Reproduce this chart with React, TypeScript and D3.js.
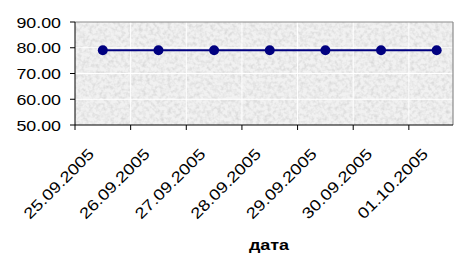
import React from "react";
import * as d3 from "d3";

const dates = ["25.09.2005", "26.09.2005", "27.09.2005", "28.09.2005", "29.09.2005", "30.09.2005", "01.10.2005"];
const values = [79, 79, 79, 79, 79, 79, 79];
const yTicks = [50, 60, 70, 80, 90];
const xTitle = "дата";

const W = 456;
const H = 255;
const left = 75;
const top = 22;
const bottom = 125;
const plotRight = 453;
const bandRight = 464.5;

export default function App() {
  const x = d3.scaleBand<string>().domain(dates).range([left, bandRight]).paddingInner(0).paddingOuter(0);
  const y = d3.scaleLinear().domain([50, 90]).range([bottom, top]);
  const bw = x.bandwidth();
  const cx = (d: string) => (x(d) as number) + bw / 2;
  const line = d3
    .line<number>()
    .x((_, i) => cx(dates[i]))
    .y((v) => y(v));
  const boundaries = dates.map((d) => x(d) as number);
  const font = "'Liberation Sans', Arial, sans-serif";

  return (
    <svg width={W} height={H} style={{ position: "absolute", left: 0, top: 0 }} xmlns="http://www.w3.org/2000/svg">
      <defs>
        <filter id="noise" x="0" y="0" width="100%" height="100%">
          <feTurbulence type="fractalNoise" baseFrequency="0.28" numOctaves="2" seed="7" result="t" />
          <feColorMatrix
            in="t"
            type="matrix"
            values="0 0 0 0 0.6  0 0 0 0 0.6  0 0 0 0 0.6  1.4 0 0 0 -0.55"
            result="n"
          />
          <feComposite in="n" in2="SourceGraphic" operator="in" />
        </filter>
        <clipPath id="plotclip">
          <rect x={left} y={top} width={plotRight - left} height={bottom - top} />
        </clipPath>
      </defs>
      <rect x={0} y={0} width={W} height={H} fill="#ffffff" />
      <rect x={left} y={top} width={plotRight - left} height={bottom - top} fill="#f1f1f1" />
      <rect x={left} y={top} width={plotRight - left} height={bottom - top} fill="#000" filter="url(#noise)" />
      <g clipPath="url(#plotclip)">
        {yTicks.slice(1, -1).map((t) => (
          <line key={"hg" + t} x1={left} x2={plotRight} y1={y(t)} y2={y(t)} stroke="#ffffff" strokeWidth={1} />
        ))}
        {boundaries.slice(1).map((b, i) => (
          <line key={"vg" + i} x1={b} x2={b} y1={top} y2={bottom} stroke="#ffffff" strokeWidth={1} />
        ))}
      </g>
      <line x1={left} x2={plotRight} y1={top} y2={top} stroke="#8c8c8c" strokeWidth={1.2} />
      <line x1={plotRight} x2={plotRight} y1={top} y2={bottom} stroke="#8c8c8c" strokeWidth={1.2} />
      <line x1={left} x2={left} y1={top} y2={bottom} stroke="#000" strokeWidth={1} />
      <line x1={left} x2={plotRight} y1={bottom} y2={bottom} stroke="#000" strokeWidth={1} />
      {yTicks.map((t) => (
        <g key={"yt" + t}>
          <line x1={left - 5} x2={left} y1={y(t)} y2={y(t)} stroke="#000" />
          <text
            transform={`translate(61,${y(t) + 5.5}) scale(1.15,1)`}
            textAnchor="end"
            fontFamily={font}
            fontSize={15.5}
            fill="#000"
          >
            {t.toFixed(2)}
          </text>
        </g>
      ))}
      {boundaries.map((b, i) => (
        <line key={"xt" + i} x1={b} x2={b} y1={bottom} y2={bottom + 5} stroke="#000" />
      ))}
      {dates.map((d) => (
        <text
          key={"xl" + d}
          transform={`translate(${cx(d) - 7.75},${bottom + 30}) rotate(-45)`}
          textAnchor="end"
          fontFamily={font}
          fontSize={15.5}
          textLength={92}
          lengthAdjust="spacingAndGlyphs"
          fill="#000"
        >
          {d}
        </text>
      ))}
      <path d={line(values) || ""} fill="none" stroke="#000080" strokeWidth={2} />
      {values.map((v, i) => (
        <circle key={"m" + i} cx={cx(dates[i])} cy={y(v)} r={5} fill="#000080" />
      ))}
      <text
        transform={`translate(269,250) scale(1.2,1)`}
        textAnchor="middle"
        fontFamily={font}
        fontWeight="bold"
        fontSize={15}
        fill="#000"
      >
        {xTitle}
      </text>
    </svg>
  );
}
